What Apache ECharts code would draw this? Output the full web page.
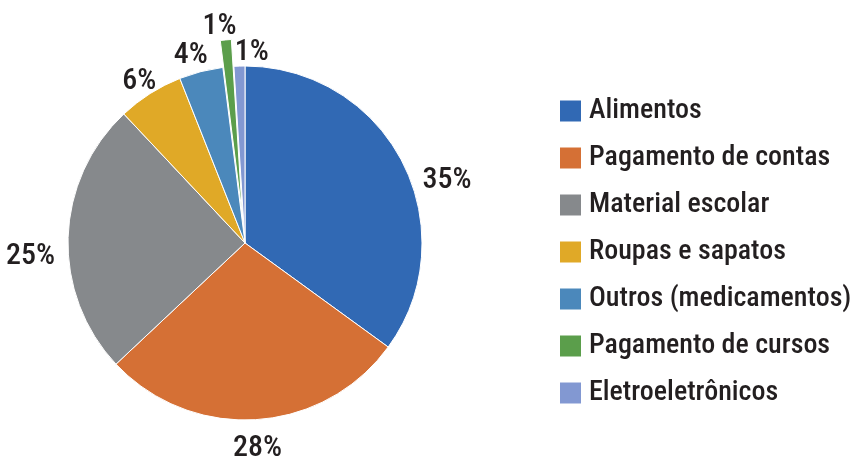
<!DOCTYPE html>
<html><head><meta charset="utf-8">
<script src="https://cdn.jsdelivr.net/npm/echarts@6/dist/echarts.min.js"></script>
<style>html,body{margin:0;padding:0;background:#fff}#c{width:856px;height:459px}</style>
</head><body><div id="c"></div>
<script>
const categories = ['Alimentos','Pagamento de contas','Material escolar','Roupas e sapatos','Outros (medicamentos)','Pagamento de cursos','Eletroeletrônicos'];
const values = [35, 28, 25, 6, 4, 1, 1];
const colors = ['#3169B4','#D57035','#86898C','#E0A927','#4B88BB','#5B9E4B','#8298D2'];
const explodedIndex = 5;

const FONT = '"Roboto Condensed","DejaVu Sans Condensed",sans-serif';
const CX = 245, CY = 243, R = 177, OFFSET = 27;
// small per-label nudges [dx, dy] to mimic the original label placement
const labelNudge = [[17,32],[0,8],[-5,20],[1,7],[-5,5],[2,-6],[13,7]];
const total = values.reduce((a,b)=>a+b,0);
const midAngles = [];
let acc = 0;
values.forEach(v => { midAngles.push((acc + v/2) / total * 2 * Math.PI); acc += v; });

const chart = echarts.init(document.getElementById('c'), null, {renderer:'canvas'});
chart.setOption({
  animation:false,
  color: colors,
  legend: {
    orient:'vertical', left:553, top:92,
    itemWidth:23, itemHeight:23, itemGap:19,
    icon:'rect',
    textStyle:{fontFamily:FONT, fontSize:28, fontWeight:500, color:'#231F20', padding:[0,0,0,2]},
    data: categories
  },
  series:[{
    type:'pie',
    center:[CX,CY], radius:[0,R],
    startAngle:90, clockwise:true,
    percentPrecision:0,
    avoidLabelOverlap:false,
    selectedMode:'single', selectedOffset:OFFSET,
    label:{show:true, position:'outside', formatter:'{d}%', fontFamily:FONT, fontSize:30, fontWeight:500, color:'#231F20'},
    labelLine:{show:false, length:6, length2:0},
    labelLayout: function (p) {
      const i = p.dataIndex;
      const t = midAngles[i];
      const s = Math.sin(t), c = Math.cos(t);
      const hw = p.labelRect.width / 2, hh = 13;
      let d = R + 8 + Math.sqrt((hw*s)*(hw*s) + (hh*c)*(hh*c));
      if (i === explodedIndex) d += OFFSET;
      const x = CX + d * s + labelNudge[i][0];
      const y = CY - d * c + labelNudge[i][1];
      return { x: x, y: y, align:'center', verticalAlign:'middle' };
    },
    itemStyle:{borderColor:'#fff', borderWidth:1},
    emphasis:{disabled:true},
    data: categories.map((n,i)=>{
      const item = {name:n, value:values[i], selected: i===explodedIndex};
      if (i === explodedIndex) item.labelLine = {show:false, length:13, length2:0};
      return item;
    })
  }]
});
</script></body></html>
